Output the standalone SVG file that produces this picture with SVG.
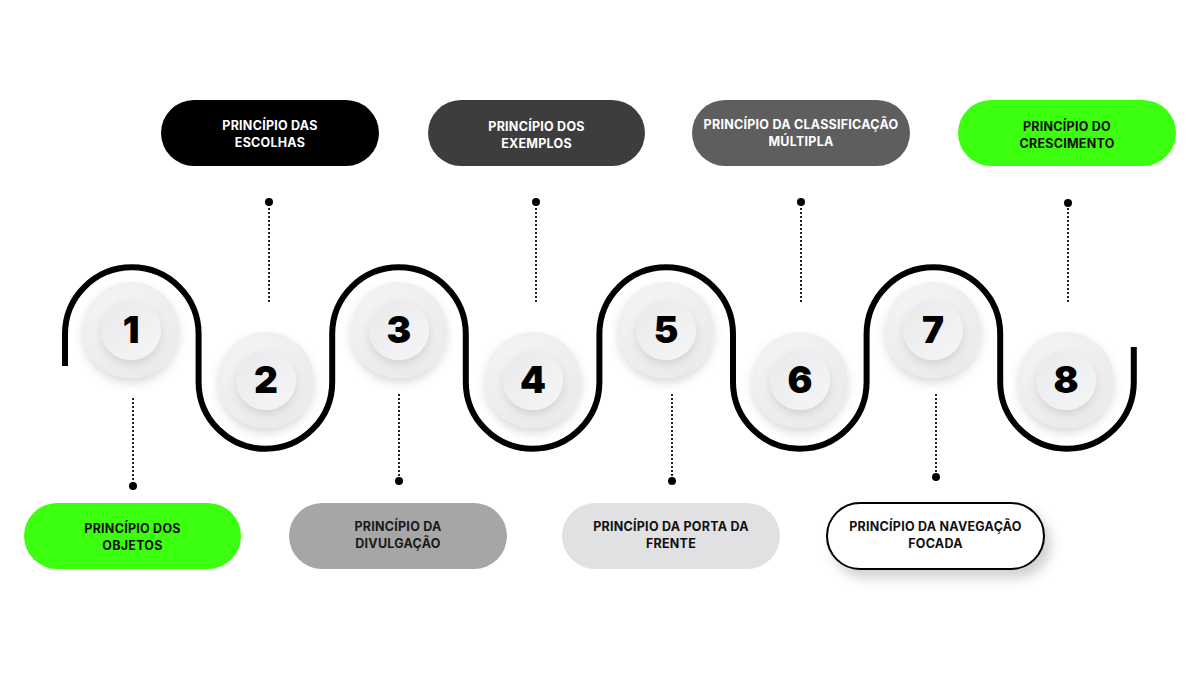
<svg xmlns="http://www.w3.org/2000/svg" width="1200" height="675" viewBox="0 0 1200 675">
<style>
  .pill-text { font-family: Inter, "Liberation Sans", sans-serif; font-weight: 700; font-size: 12.5px; letter-spacing: 0.25px; text-anchor: middle; }
  .num { font-family: Inter, "Liberation Sans", sans-serif; font-weight: 900; font-size: 37px; text-anchor: middle; fill: #000; }
  .wave { fill: none; stroke: #000; stroke-width: 6; }
  .dots { stroke: #222; stroke-width: 2; stroke-dasharray: 2 2; fill: none; }
  .dot { fill: #000; }
  .outer { fill: url(#gOuter); filter: url(#shOuter); }
  .inner { fill: url(#gInner); filter: url(#shInner); }
</style>
<defs>
  <radialGradient id="gOuter" cx="0.4" cy="0.35" r="0.7">
    <stop offset="0" stop-color="#f7f7f9"/>
    <stop offset="1" stop-color="#eaeaed"/>
  </radialGradient>
  <linearGradient id="gInner" x1="0" y1="0" x2="1" y2="1">
    <stop offset="0" stop-color="#e9e9ec"/>
    <stop offset="1" stop-color="#f6f6f8"/>
  </linearGradient>
  <filter id="shOuter" x="-30%" y="-30%" width="160%" height="170%">
    <feDropShadow dx="0" dy="5" stdDeviation="5" flood-color="#000" flood-opacity="0.14"/>
  </filter>
  <filter id="shInner" x="-40%" y="-40%" width="180%" height="190%">
    <feDropShadow dx="0" dy="4" stdDeviation="4" flood-color="#000" flood-opacity="0.12"/>
  </filter>
  <filter id="shPill" x="-20%" y="-40%" width="150%" height="200%">
    <feDropShadow dx="6" dy="8" stdDeviation="6" flood-color="#000" flood-opacity="0.18"/>
  </filter>
</defs>
<rect width="1200" height="675" fill="#fff"/>

<g id="connectors">
  <path class="wave" d="M65 366 L65 334 A66.8 66.8 0 0 1 198.6 334 L198.6 382 A66.8 66.8 0 0 0 332.2 382 L332.2 334 A66.8 66.8 0 0 1 465.8 334 L465.8 382 A66.8 66.8 0 0 0 599.4 382 L599.4 334 A66.8 66.8 0 0 1 733 334 L733 382 A66.8 66.8 0 0 0 866.6 382 L866.6 334 A66.8 66.8 0 0 1 1000.2 334 L1000.2 382 A66.8 66.8 0 0 0 1133.8 382 L1133.8 347"/>
  <path class="dots" d="M269 204 V304 M536 204 V304 M801 204 V304 M1068 204 V304"/>
  <path class="dots" d="M133 398 V484 M399 394 V479 M672 394 V479 M936 394 V475"/>
  <circle class="dot" cx="269" cy="202" r="4"/>
  <circle class="dot" cx="536" cy="202" r="4"/>
  <circle class="dot" cx="801" cy="202" r="4"/>
  <circle class="dot" cx="1068" cy="203" r="4"/>
  <circle class="dot" cx="133" cy="486" r="4"/>
  <circle class="dot" cx="399" cy="481" r="4"/>
  <circle class="dot" cx="672" cy="481" r="4"/>
  <circle class="dot" cx="936" cy="477" r="4"/>
</g>

<g id="step1">
  <circle class="outer" cx="131" cy="330" r="48"/>
  <circle class="inner" cx="131" cy="330" r="30"/>
  <text class="num" x="131" y="343">1</text>
  <rect x="24" y="503" width="217" height="66" rx="33" fill="#3cff0f"/>
  <text class="pill-text" fill="#111"><tspan x="132.5" y="533">PRINCÍPIO DOS</tspan><tspan x="132.5" y="550">OBJETOS</tspan></text>
</g>
<g id="step2">
  <circle class="outer" cx="266" cy="380" r="48"/>
  <circle class="inner" cx="266" cy="380" r="30"/>
  <text class="num" x="266" y="393">2</text>
  <rect x="161" y="100" width="218" height="66" rx="33" fill="#000"/>
  <text class="pill-text" fill="#fff"><tspan x="270" y="130">PRINCÍPIO DAS</tspan><tspan x="270" y="147">ESCOLHAS</tspan></text>
</g>
<g id="step3">
  <circle class="outer" cx="399" cy="330" r="48"/>
  <circle class="inner" cx="399" cy="330" r="30"/>
  <text class="num" x="399" y="343">3</text>
  <rect x="289" y="503" width="218" height="66" rx="33" fill="#a6a6a6"/>
  <text class="pill-text" fill="#1a1a1a"><tspan x="398" y="531">PRINCÍPIO DA</tspan><tspan x="398" y="548">DIVULGAÇÃO</tspan></text>
</g>
<g id="step4">
  <circle class="outer" cx="533" cy="380" r="48"/>
  <circle class="inner" cx="533" cy="380" r="30"/>
  <text class="num" x="533" y="393">4</text>
  <rect x="428" y="100" width="217" height="66" rx="33" fill="#3d3d3d"/>
  <text class="pill-text" fill="#fff"><tspan x="536.5" y="131">PRINCÍPIO DOS</tspan><tspan x="536.5" y="148">EXEMPLOS</tspan></text>
</g>
<g id="step5">
  <circle class="outer" cx="666" cy="330" r="48"/>
  <circle class="inner" cx="666" cy="330" r="30"/>
  <text class="num" x="666" y="343">5</text>
  <rect x="562" y="503" width="218" height="66" rx="33" fill="#e1e1e3"/>
  <text class="pill-text" fill="#111"><tspan x="671" y="531">PRINCÍPIO DA PORTA DA</tspan><tspan x="671" y="548">FRENTE</tspan></text>
</g>
<g id="step6">
  <circle class="outer" cx="800" cy="380" r="48"/>
  <circle class="inner" cx="800" cy="380" r="30"/>
  <text class="num" x="800" y="393">6</text>
  <rect x="692" y="100" width="218" height="66" rx="33" fill="#5e5e5e"/>
  <text class="pill-text" fill="#fff"><tspan x="801" y="129">PRINCÍPIO DA CLASSIFICAÇÃO</tspan><tspan x="801" y="146">MÚLTIPLA</tspan></text>
</g>
<g id="step7">
  <circle class="outer" cx="933" cy="330" r="48"/>
  <circle class="inner" cx="933" cy="330" r="30"/>
  <text class="num" x="933" y="343">7</text>
  <rect x="827" y="503" width="217" height="66" rx="33" fill="#fff" stroke="#000" stroke-width="2" filter="url(#shPill)"/>
  <text class="pill-text" fill="#111"><tspan x="935.5" y="531">PRINCÍPIO DA NAVEGAÇÃO</tspan><tspan x="935.5" y="548">FOCADA</tspan></text>
</g>
<g id="step8">
  <circle class="outer" cx="1066" cy="380" r="48"/>
  <circle class="inner" cx="1066" cy="380" r="30"/>
  <text class="num" x="1066" y="393">8</text>
  <rect x="958" y="100" width="218" height="66" rx="33" fill="#3cff0f"/>
  <text class="pill-text" fill="#111"><tspan x="1067" y="131">PRINCÍPIO DO</tspan><tspan x="1067" y="148">CRESCIMENTO</tspan></text>
</g>
</svg>
